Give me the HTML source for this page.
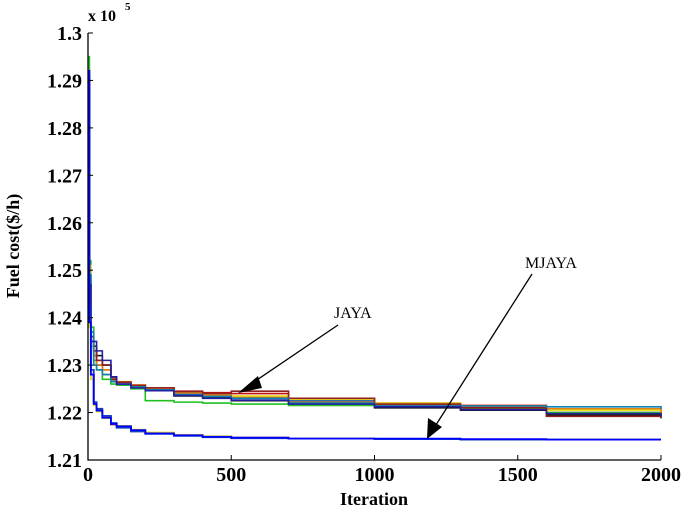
<!DOCTYPE html>
<html><head><meta charset="utf-8"><style>
html,body{margin:0;padding:0;background:#fff;}
svg{display:block;font-family:"Liberation Serif",serif;font-weight:bold;}
</style></head><body>
<svg id="chart" width="685" height="508" viewBox="0 0 685 508">
<g id="series"></g>
<g id="axes"></g>
<text x="88" y="21" font-size="16">x 10</text>
<text x="125" y="10" font-size="11">5</text>
<text x="374" y="505" text-anchor="middle" font-size="18">Iteration</text>
<text transform="translate(19,246) rotate(-90)" text-anchor="middle" font-size="18">Fuel cost($/h)</text>
<g>
<text x="334" y="318" font-size="16" style="font-weight:normal">JAYA</text>
<line x1="338" y1="325" x2="248" y2="386" stroke="#000" stroke-width="1.3"/>
<polygon points="238,393 258,376 262,388" fill="#000"/>
</g>
<g>
<text x="525" y="268" font-size="16" style="font-weight:normal">MJAYA</text>
<line x1="532" y1="274" x2="434" y2="428" stroke="#000" stroke-width="1.3"/>
<polygon points="427,439 428,418 442,427" fill="#000"/>
</g>
</svg>
<script>
const iterations=[0,5,10,20,30,50,80,100,150,200,300,400,500,700,1000,1300,1600,2000];
const jayaRuns=[
[1.290,1.250,1.236,1.232,1.230,1.228,1.2265,1.2258,1.2255,1.2250,1.2240,1.2235,1.2230,1.2225,1.2215,1.2210,1.2208,1.2205],
[1.285,1.246,1.235,1.233,1.231,1.229,1.2272,1.2262,1.2258,1.2252,1.2245,1.2242,1.2240,1.2230,1.2220,1.2215,1.2200,1.2190],
[1.295,1.252,1.238,1.231,1.229,1.227,1.2260,1.2258,1.2250,1.2225,1.2222,1.2220,1.2218,1.2215,1.2212,1.2208,1.2200,1.2198],
[1.288,1.247,1.236,1.234,1.232,1.230,1.2275,1.2262,1.2256,1.2250,1.2235,1.2232,1.2225,1.2220,1.2210,1.2205,1.2195,1.2188],
[1.292,1.251,1.237,1.230,1.229,1.228,1.2268,1.2262,1.2255,1.2248,1.2242,1.2238,1.2235,1.2228,1.2220,1.2212,1.2205,1.2200],
[1.286,1.246,1.234,1.232,1.230,1.229,1.2272,1.2265,1.2258,1.2250,1.2240,1.2236,1.2232,1.2222,1.2215,1.2212,1.2208,1.2195],
[1.289,1.248,1.236,1.233,1.231,1.230,1.2270,1.2264,1.2257,1.2252,1.2244,1.2240,1.2245,1.2230,1.2218,1.2210,1.2192,1.2188],
[1.291,1.249,1.237,1.230,1.229,1.228,1.2266,1.2260,1.2254,1.2248,1.2238,1.2234,1.2230,1.2220,1.2214,1.2214,1.2212,1.2208],
[1.287,1.247,1.235,1.235,1.233,1.231,1.2275,1.2260,1.2252,1.2246,1.2236,1.2230,1.2226,1.2218,1.2212,1.2206,1.2198,1.2192]
];
const mjayaRuns=[
[1.290,1.240,1.228,1.2220,1.2205,1.2190,1.2175,1.2170,1.2162,1.2157,1.2152,1.2149,1.2147,1.2145,1.2144,1.2143,1.2143,1.2143],
[1.285,1.238,1.227,1.2215,1.2202,1.2188,1.2177,1.2172,1.2164,1.2158,1.2153,1.2150,1.2147,1.2145,1.2144,1.2143,1.2143,1.2143],
[1.288,1.242,1.229,1.2222,1.2208,1.2193,1.2178,1.2168,1.2160,1.2155,1.2151,1.2148,1.2146,1.2145,1.2144,1.2143,1.2143,1.2143],
[1.292,1.239,1.228,1.2218,1.2204,1.2189,1.2176,1.2171,1.2163,1.2156,1.2152,1.2149,1.2147,1.2145,1.2145,1.2144,1.2143,1.2143]
];
const jayaColors=["#1060c0","#c01010","#20c020","#101010","#e8e020","#e08010","#902020","#1080b0","#2020a0"];
const mjayaColors=["#c03020","#e8e020","#1040c0","#0000ff"];
const yTicks=[1.21,1.22,1.23,1.24,1.25,1.26,1.27,1.28,1.29,1.3];
const yTickLabels=["1.21","1.22","1.23","1.24","1.25","1.26","1.27","1.28","1.29","1.3"];
const xTicks=[0,500,1000,1500,2000];
const xTickLabels=["0","500","1000","1500","2000"];

const X0=88,X1=661,Y0=460,Y1=33;
const xs=v=>X0+v/2000*(X1-X0);
const ys=v=>Y0-(v-1.21)/0.09*(Y0-Y1);
const NS="http://www.w3.org/2000/svg";
function mk(tag,attrs,parent){const e=document.createElementNS(NS,tag);for(const k in attrs)e.setAttribute(k,attrs[k]);parent.appendChild(e);return e;}
const series=document.getElementById('series'),axes=document.getElementById('axes');
function stepPath(vals){let d="M"+xs(iterations[0])+","+ys(vals[0]);for(let i=1;i<iterations.length;i++){d+=" H"+xs(iterations[i])+" V"+ys(vals[i]);}return d;}
jayaRuns.forEach((r,i)=>{const p=mk('path',{d:stepPath(r),fill:'none',stroke:jayaColors[i],'stroke-width':1.6},series);

});
mjayaRuns.forEach((r,i)=>{const p=mk('path',{d:stepPath(r),fill:'none',stroke:mjayaColors[i],'stroke-width':1.8},series);

});
const ax=mk('path',{d:`M${X0},${Y1} V${Y0} H${X1}`,fill:'none',stroke:'#000','stroke-width':1.3},axes);


yTicks.forEach((t,i)=>{const y=ys(t);mk('line',{x1:X0,x2:X0+5,y1:y,y2:y,stroke:'#000'},axes);
const tx=mk('text',{x:X0-6,y:y+7,'text-anchor':'end','font-size':20},axes);tx.textContent=yTickLabels[i];

});
xTicks.forEach((t,i)=>{const x=xs(t);mk('line',{x1:x,x2:x,y1:Y0,y2:Y0-5,stroke:'#000'},axes);
const tx=mk('text',{x:x,y:Y0+21,'text-anchor':'middle','font-size':20},axes);tx.textContent=xTickLabels[i];

});
</script>
</body></html>
